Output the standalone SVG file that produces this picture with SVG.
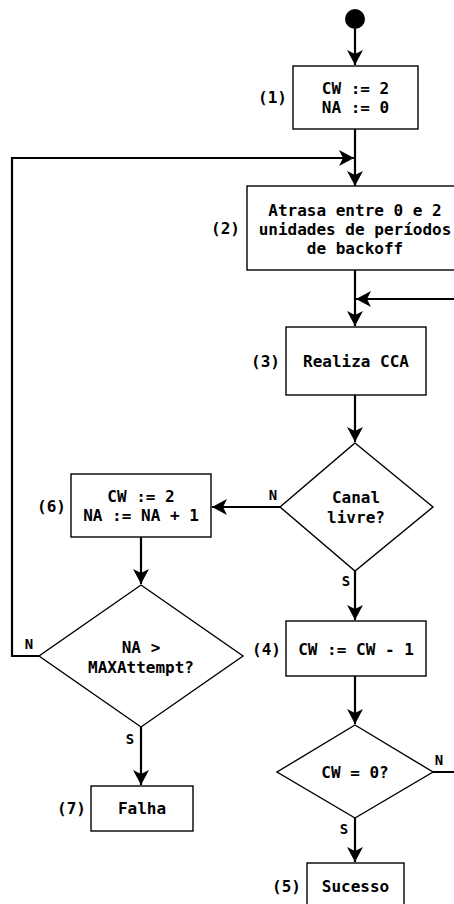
<svg xmlns="http://www.w3.org/2000/svg" width="454" height="904" viewBox="0 0 454 904">
<defs>
<style>
.box{fill:#fff;stroke:#000;stroke-width:1.4}
.t{font-family:"DejaVu Sans Mono","Liberation Mono",monospace;font-weight:bold;font-size:16px;fill:#000;text-anchor:middle}
.lbl{font-family:"DejaVu Sans Mono","Liberation Mono",monospace;font-weight:bold;font-size:16px;fill:#000;text-anchor:end}
.yn{font-family:"DejaVu Sans Mono","Liberation Mono",monospace;font-weight:bold;font-size:14px;fill:#000;text-anchor:middle}
.c{fill:none;stroke:#000;stroke-width:2.2}
</style>
<marker id="ah" markerUnits="userSpaceOnUse" markerWidth="20" markerHeight="20" refX="15" refY="8" orient="auto" viewBox="0 0 20 16">
<path d="M15,8 L0,0 L4,8 L0,16 Z" fill="#000"/>
</marker>
</defs>
<g id="connectors">
<path class="c" d="M355,29 V65" marker-end="url(#ah)"/>
<path class="c" d="M355,129 V186" marker-end="url(#ah)"/>
<path class="c" d="M39,656 H12 V158 H354" marker-end="url(#ah)"/>
<path class="c" d="M355,270 V326" marker-end="url(#ah)"/>
<path class="c" d="M433,772 H460 V299 H356" marker-end="url(#ah)"/>
<path class="c" d="M355,395 V442" marker-end="url(#ah)"/>
<path class="c" d="M280,507 H212" marker-end="url(#ah)"/>
<path class="c" d="M355,571 V620" marker-end="url(#ah)"/>
<path class="c" d="M141,537 V584" marker-end="url(#ah)"/>
<path class="c" d="M141,727 V785" marker-end="url(#ah)"/>
<path class="c" d="M355,676 V724" marker-end="url(#ah)"/>
<path class="c" d="M355,818 V862" marker-end="url(#ah)"/>
<text class="yn" x="273" y="500">N</text>
<text class="yn" x="346" y="586">S</text>
<text class="yn" x="29" y="649">N</text>
<text class="yn" x="130" y="744">S</text>
<text class="yn" x="439" y="765">N</text>
<text class="yn" x="344" y="834">S</text>
</g>
<g id="start">
<circle cx="355" cy="19" r="10" fill="#000"/>
</g>
<g id="n1">
<rect class="box" x="293" y="66" width="125" height="63"/>
<text class="t" x="355.5" y="94">CW := 2</text>
<text class="t" x="355.5" y="113">NA := 0</text>
<text class="lbl" x="287" y="103">(1)</text>
</g>
<g id="n2">
<rect class="box" x="247" y="186" width="216" height="84"/>
<text class="t" x="355" y="216">Atrasa entre 0 e 2</text>
<text class="t" x="355" y="234.5">unidades de períodos</text>
<text class="t" x="355" y="254">de backoff</text>
<text class="lbl" x="240" y="234">(2)</text>
</g>
<g id="n3">
<rect class="box" x="286" y="327" width="140" height="68"/>
<text class="t" x="356" y="366.5">Realiza CCA</text>
<text class="lbl" x="280" y="366.5">(3)</text>
</g>
<g id="d1">
<polygon class="box" points="355,443 433,507 355,571 280,507"/>
<text class="t" x="356" y="503">Canal</text>
<text class="t" x="356" y="523">livre?</text>
</g>
<g id="n6">
<rect class="box" x="71" y="474" width="140" height="63"/>
<text class="t" x="141" y="502">CW := 2</text>
<text class="t" x="141" y="521">NA := NA + 1</text>
<text class="lbl" x="66" y="511.5">(6)</text>
</g>
<g id="d2">
<polygon class="box" points="141,585 243,656 141,727 39,656"/>
<text class="t" x="141" y="653">NA &gt;</text>
<text class="t" x="141" y="673">MAXAttempt?</text>
</g>
<g id="n4">
<rect class="box" x="286" y="621" width="140" height="55"/>
<text class="t" x="356" y="654.5">CW := CW - 1</text>
<text class="lbl" x="281" y="654.5">(4)</text>
</g>
<g id="d3">
<polygon class="box" points="355,725 433,772 355,818 277,772"/>
<text class="t" x="355" y="777.5">CW = 0?</text>
</g>
<g id="n7">
<rect class="box" x="91" y="786" width="102" height="45"/>
<text class="t" x="142" y="813.5">Falha</text>
<text class="lbl" x="86" y="813.5">(7)</text>
</g>
<g id="n5">
<rect class="box" x="307" y="863" width="97" height="50"/>
<text class="t" x="355.5" y="891.5">Sucesso</text>
<text class="lbl" x="301" y="891.5">(5)</text>
</g>
</svg>
